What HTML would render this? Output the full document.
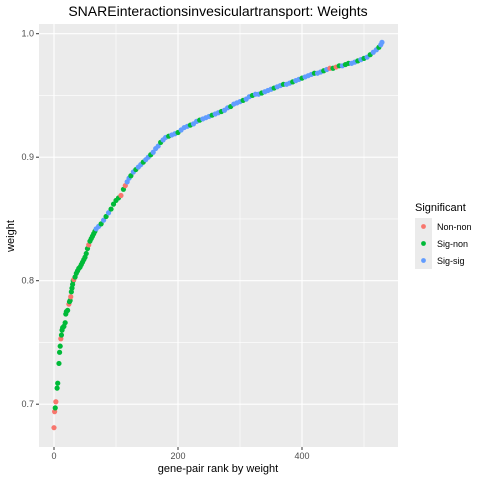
<!DOCTYPE html>
<html><head><meta charset="utf-8"><style>
body{margin:0;background:#fff;width:480px;height:480px;overflow:hidden;font-family:"Liberation Sans",Arial,sans-serif}
</style></head><body>
<svg id="chart" width="480" height="480" xmlns="http://www.w3.org/2000/svg" font-family="Liberation Sans, Arial, sans-serif">
<rect x="0" y="0" width="480" height="480" fill="#fff"/>
<text x="218" y="16" font-size="14" text-anchor="middle" fill="#000">SNAREinteractionsinvesiculartransport: Weights</text>
<rect x="39" y="24" width="359" height="423" fill="#ebebeb"/>
<g id="grid"></g>
<g id="points"></g>
<g id="axes"></g>
<text x="218" y="472" font-size="11" text-anchor="middle" fill="#000">gene-pair rank by weight</text>
<text transform="translate(14,236) rotate(-90)" font-size="11" text-anchor="middle" fill="#000">weight</text>
<g>
<text x="415" y="211" font-size="11" fill="#000">Significant</text>
<g><rect x="415" y="218" width="17" height="17" fill="#ebebeb"/><circle cx="423.5" cy="226.5" r="2.4" fill="#F8766D"/><text x="437" y="230" font-size="9" fill="#000">Non-non</text></g>
<g><rect x="415" y="235" width="17" height="17" fill="#ebebeb"/><circle cx="423.5" cy="243.5" r="2.4" fill="#00BA38"/><text x="437" y="247" font-size="9" fill="#000">Sig-non</text></g>
<g><rect x="415" y="252" width="17" height="17" fill="#ebebeb"/><circle cx="423.5" cy="260.5" r="2.4" fill="#619CFF"/><text x="437" y="264" font-size="9" fill="#000">Sig-sig</text></g>
</g>
</svg>
<script>
const ranks=[0,1,2,3,5,6,8,9,10,11,12,13,14,16,18,19,20,22,24,25,26,27,28,29,30,31,32,34,36,38,40,42,44,46,48,50,52,54,56,58,60,62,64,66,68,72,76,80,84,88,92,96,100,104,108,112,115,118,121,124,128,132,136,140,144,148,152,156,160,164,168,172,176,180,185,190,195,200,205,210,215,220,225,230,235,240,245,250,255,260,265,270,275,280,285,290,295,300,305,310,315,320,325,330,335,340,345,350,355,360,365,370,375,380,385,390,395,400,405,410,415,420,425,430,435,440,445,450,455,460,465,470,475,480,485,490,495,500,505,510,515,520,524,527,529];
const weights=[.681,.694,.697,.702,.713,.717,.733,.742,.747,.753,.756,.760,.762,.763,.766,.773,.775,.776,.781,.783,.784,.787,.791,.794,.797,.800,.801,.803,.806,.808,.810,.811,.813,.815,.817,.819,.822,.826,.829,.832,.834,.836,.838,.840,.842,.844,.846,.849,.852,.855,.858,.862,.865,.867,.869,.874,.877,.880,.883,.885,.888,.890,.892,.894,.896,.898,.900,.902,.904,.907,.909,.912,.914,.916,.917,.918,.919,.920,.922,.924,.925,.926,.927,.929,.930,.931,.932,.933,.934,.935,.936,.937,.938,.940,.941,.943,.944,.945,.946,.947,.949,.950,.951,.951,.952,.953,.954,.955,.956,.957,.958,.959,.959,.960,.961,.962,.963,.964,.965,.966,.967,.968,.968,.969,.970,.971,.972,.972,.973,.974,.974,.975,.976,.976,.977,.978,.979,.980,.981,.983,.985,.987,.989,.991,.993];
const groups="NNSNSSSSSNSSSSSSSSNSSNSSSSNSSSSSSSSSSSNSSSSSBBSBSBSSSSNSNBBSBSBBSBBSBBBSBBSBBSBBBSBBSBBBSBBSBBSBBBSBBSBBSBBBSBBSBBSBBSBBBSBBSBNSNSBSSBBSBSBSBBSBBS".split("");
const xTicks=[0,200,400], xMinor=[100,300,500];
const yTicks=[0.7,0.8,0.9,1.0], yMinor=[0.75,0.85,0.95];
const colors={N:"#F8766D",S:"#00BA38",B:"#619CFF"};
const NS="http://www.w3.org/2000/svg";
const L=39,R=398,T=24,B=447;
const xs=v=>54+v*0.62;
const ys=v=>33.7+(1-v)*1235;
function mk(tag,attrs,parent){const e=document.createElementNS(NS,tag);for(const k in attrs)e.setAttribute(k,attrs[k]);parent.appendChild(e);return e;}
const grid=document.getElementById('grid'),pts=document.getElementById('points'),axes=document.getElementById('axes');
xMinor.forEach(v=>{const l=mk('line',{x1:xs(v),x2:xs(v),y1:T,y2:B,stroke:'#fff','stroke-width':0.6},grid);

});
yMinor.forEach(v=>{const l=mk('line',{x1:L,x2:R,y1:ys(v),y2:ys(v),stroke:'#fff','stroke-width':0.6},grid);

});
xTicks.forEach(v=>{const l=mk('line',{x1:xs(v),x2:xs(v),y1:T,y2:B,stroke:'#fff','stroke-width':1.1},grid);


const t=mk('line',{x1:xs(v),x2:xs(v),y1:B,y2:B+3,stroke:'#333','stroke-width':1},axes);


const tx=mk('text',{x:xs(v),y:B+12,'font-size':9,'text-anchor':'middle',fill:'#4d4d4d'},axes);tx.textContent=String(v);

});
yTicks.forEach(v=>{const l=mk('line',{x1:L,x2:R,y1:ys(v),y2:ys(v),stroke:'#fff','stroke-width':1.1},grid);


const t=mk('line',{x1:L-3,x2:L,y1:ys(v),y2:ys(v),stroke:'#333','stroke-width':1},axes);


const tx=mk('text',{x:L-5,y:ys(v)+3,'font-size':9,'text-anchor':'end',fill:'#4d4d4d'},axes);tx.textContent=v.toFixed(1);

});
ranks.forEach((r,i)=>{const c=mk('circle',{cx:xs(r),cy:ys(weights[i]),r:2.6,fill:colors[groups[i]||'B']},pts);

});
</script>
</body></html>
